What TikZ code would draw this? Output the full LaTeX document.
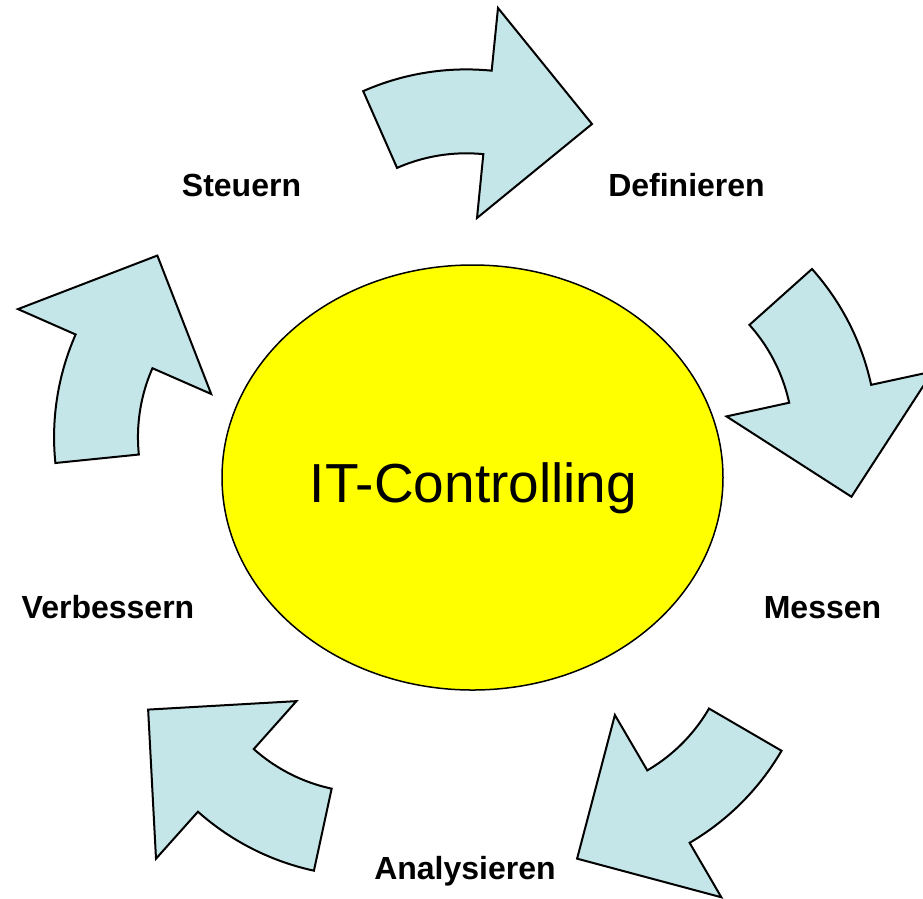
\documentclass[tikz,border=0pt]{standalone}
\usepackage{fontspec}
\setmainfont{Liberation Sans}
\usetikzlibrary{shapes.geometric}
\definecolor{arrowfill}{HTML}{C4E6E8}
\definecolor{coreyellow}{HTML}{FFFF00}
\tikzset{
  blockarrow/.style={draw=black, fill=arrowfill, line width=2pt, line join=miter},
  steplabel/.style={font=\fontsize{32}{38}\selectfont\bfseries, anchor=base, inner sep=0pt},
  corebox/.style={ellipse, draw=black, fill=coreyellow, line width=1.5pt, minimum width=501pt, minimum height=425pt, inner sep=0pt},
  coretext/.style={font=\fontsize{55}{62}\selectfont, anchor=base, inner sep=0pt}
}
% one curved block arrow (the top one); the others are rotated copies
\newcommand{\cyclearrow}{%
  \draw[blockarrow]
    plot[domain=-113.8:-84.3, samples=40] ({466.3+255.5*cos(\x)},{324.9+255.5*sin(\x)})
    -- (498,8) -- (592,124) -- (477,218)
    -- plot[domain=-84.3:-113.8, samples=40] ({466.3+171.6*cos(\x)},{324.9+171.6*sin(\x)})
    -- cycle;%
}
\begin{document}
\begin{tikzpicture}[x=1pt,y=-1pt]
\useasboundingbox (0,0) rectangle (923,898);
\clip (0,0) rectangle (923,898);
\coordinate (pivot) at (465.2,488.9);

% central ellipse
\node[corebox] (core) at (472.5,477.5) {};
\node[coretext] (title) at (473.5,502) {IT-Controlling};

% five arrows of the cycle
\foreach \k in {0,1,2,3,4}{
  \begin{scope}[rotate around={-72*\k:(pivot)}]
    \cyclearrow
  \end{scope}
}

% labels
\node[steplabel] (steuern) at (241.5,196) {Steuern};
\node[steplabel] (definieren) at (686.5,196) {Definieren};
\node[steplabel] (messen) at (822.5,618) {Messen};
\node[steplabel] (analysieren) at (465,879) {Analysieren};
\node[steplabel] (verbessern) at (108,618) {Verbessern};
\end{tikzpicture}
\end{document}
